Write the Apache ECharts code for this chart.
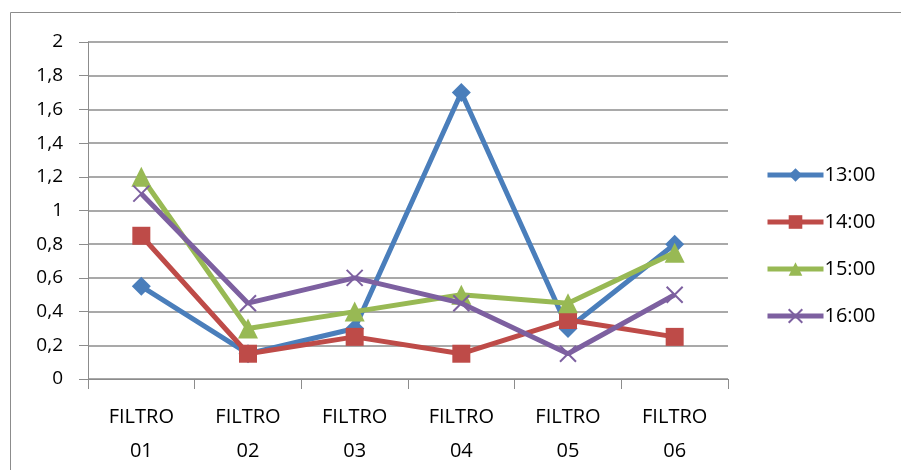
<!DOCTYPE html>
<html><head><meta charset="utf-8">
<script src="https://cdn.jsdelivr.net/npm/echarts@6/dist/echarts.min.js"></script>
<style>html,body{margin:0;padding:0;background:#fff}#c{width:901px;height:470px}</style>
</head><body><div id="c"></div>
<script>
const categories = ['FILTRO\n01','FILTRO\n02','FILTRO\n03','FILTRO\n04','FILTRO\n05','FILTRO\n06'];
const seriesNames = ['13:00','14:00','15:00','16:00'];
const s1300 = [0.55, 0.15, 0.3, 1.7, 0.3, 0.8];
const s1400 = [0.85, 0.15, 0.25, 0.15, 0.35, 0.25];
const s1500 = [1.2, 0.3, 0.4, 0.5, 0.45, 0.75];
const s1600 = [1.1, 0.45, 0.6, 0.45, 0.15, 0.5];
const colors = ['#4A7EBB','#BE4B48','#98B954','#7D60A0'];
const symbols = ['diamond','rect','triangle','path://M0,0L10,10M10,0L0,10'];
const sizes = [19,18,20,16];
const data = [s1300,s1400,s1500,s1600];
const font = '"Open Sans", "Liberation Sans", sans-serif';
const chart = echarts.init(document.getElementById('c'), null, {renderer:'canvas'});
chart.setOption({
  animation:false,
  textStyle:{fontFamily:font},
  graphic:[{type:'rect',shape:{x:10.5,y:12.5,width:900,height:470},style:{fill:'none',stroke:'#8c8c8c',lineWidth:1},silent:true,z:-1}],
  grid:{left:88,right:173,top:42,bottom:91,containLabel:false},
  legend:{orient:'vertical',left:760,top:160,itemWidth:56,itemHeight:17,itemGap:27,
    lineStyle:{width:5},
    textStyle:{fontSize:20,color:'#000',fontFamily:font,padding:[0,0,0,-4]},
    data:seriesNames},
  xAxis:{type:'category',data:categories,boundaryGap:true,
    axisLine:{lineStyle:{color:'#8c8c8c',width:1}},
    axisTick:{show:true,length:10,lineStyle:{color:'#8c8c8c'}},
    axisLabel:{fontSize:20,color:'#000',margin:21,lineHeight:34,fontFamily:font}},
  yAxis:{type:'value',min:0,max:2,interval:0.2,
    axisLine:{show:true,lineStyle:{color:'#8c8c8c'}},
    axisTick:{show:true,inside:false,length:9,lineStyle:{color:'#8c8c8c'}},
    splitLine:{lineStyle:{color:'#8c8c8c',width:1.5}},
    axisLabel:{fontSize:19,color:'#000',margin:25,fontFamily:font,
      formatter:v=>String(Math.round(v*10)/10).replace('.',',')}},
  series:data.map((d,i)=>({
    name:seriesNames[i],type:'line',data:d,
    symbol:symbols[i],symbolSize:sizes[i],
    lineStyle:{width:5,color:colors[i]},
    itemStyle:i===3?{color:colors[i],borderColor:colors[i],borderWidth:2}:{color:colors[i]},
    z:2+i
  }))
});
</script></body></html>
